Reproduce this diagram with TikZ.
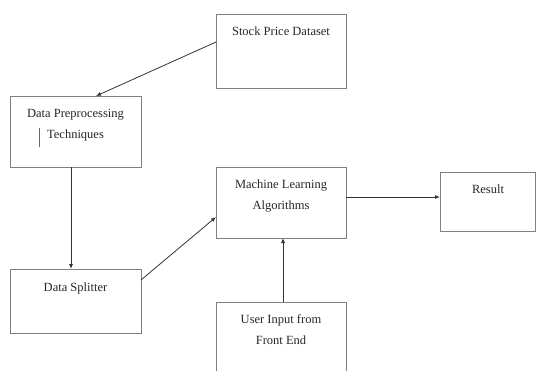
\documentclass[tikz,border=0pt]{standalone}
\usepackage{fontspec}
\setmainfont{Liberation Serif}
\usetikzlibrary{arrows.meta,calc}
\tikzset{
  box/.style={draw=black!50, line width=0.8pt, inner sep=0pt, outer sep=0pt, anchor=north west, fill=none},
  txt/.style={font=\fontsize{12.5}{21}\selectfont, align=center, inner sep=0pt, text=black!85},
  conn/.style={draw=black!80, line width=0.8pt, -{Latex[length=5pt,width=4pt]}}
}
\begin{document}
\begin{tikzpicture}[x=1pt,y=-1pt]
\useasboundingbox (0,0) rectangle (536,370);
\clip (0,0) rectangle (536,370);
% boxes
\node[box, minimum width=130pt, minimum height=74pt] (stock) at (216,14) {};
\node[box, minimum width=131pt, minimum height=71pt] (pre) at (10,96) {};
\node[box, minimum width=130pt, minimum height=71pt] (ml) at (216,167) {};
\node[box, minimum width=95.5pt, minimum height=59pt] (res) at (440,172) {};
\node[box, minimum width=131pt, minimum height=64pt] (split) at (10,269) {};
\node[box, minimum width=130pt, minimum height=75pt] (user) at (216,302) {};
% texts
\node[txt, anchor=base] (stockt) at (281,35) {Stock Price Dataset};
\node[txt, anchor=north] (pret) at (75.5,109) {Data Preprocessing\\Techniques};
\draw[black!60, line width=0.6pt] (39,128) -- (39,147) coordinate (bar);
\node[txt, anchor=north] (mlt) at (281,180) {Machine Learning\\Algorithms};
\node[txt, anchor=base] (rest) at (488,193) {Result};
\node[txt, anchor=base] (splitt) at (75.5,291) {Data Splitter};
\node[txt, anchor=north] (usert) at (281,314) {User Input from\\Front End};
% connectors
\draw[conn] ([yshift=9pt]stock.west) -- ([xshift=20.5pt]pre.north);
\draw[conn] ([xshift=-4.5pt]pre.south) -- ([xshift=-4.5pt]split.north);
\draw[conn] ([yshift=21pt]split.east) -- ([yshift=-14.5pt]ml.west);
\draw[conn] ([yshift=5.5pt]ml.east) -- ([yshift=4.5pt]res.west);
\draw[conn] ([xshift=2pt]user.north) -- ([xshift=2pt]ml.south);
\end{tikzpicture}
\end{document}
